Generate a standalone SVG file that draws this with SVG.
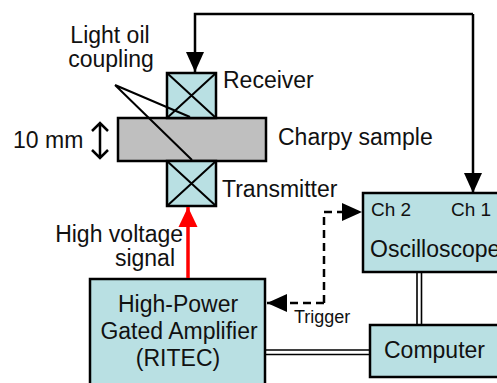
<svg xmlns="http://www.w3.org/2000/svg" width="497" height="383" viewBox="0 0 497 383">
<style>
text{font-family:"Liberation Sans",Arial,sans-serif;font-size:23px;fill:#111}
.box{fill:#b9e0e3;stroke:#000;stroke-width:2.5}
.x{stroke:#000;stroke-width:2;fill:none}
.ln{stroke:#000;stroke-width:2.5;fill:none}
.thin{stroke:#000;stroke-width:1.6;fill:none}
.small{font-size:18px}
.ch{font-size:19px}
</style>
<defs>
<marker id="ah" markerWidth="20" markerHeight="20" viewBox="0 0 20 20" refX="20" refY="10" orient="auto" markerUnits="userSpaceOnUse">
<path d="M0,1 L20,10 L0,19 Z" fill="#000"/>
</marker>
<marker id="ahr" markerWidth="20" markerHeight="20" viewBox="0 0 20 20" refX="20" refY="10" orient="auto" markerUnits="userSpaceOnUse">
<path d="M0,0.5 L20,10 L0,19.5 Z" fill="#f00"/>
</marker>
</defs>
<g id="sample">
<rect x="118" y="118" width="148" height="43" fill="#bfbfbf" stroke="#000" stroke-width="2.5"/>
</g>
<g id="receiver">
<rect class="box" x="167" y="73" width="49" height="45"/>
<path class="x" d="M167,73 L216,118 M216,73 L167,118"/>
</g>
<g id="transmitter">
<rect class="box" x="167" y="161" width="49" height="45"/>
<path class="x" d="M167,161 L216,206 M216,161 L167,206"/>
</g>
<g id="oscilloscope">
<rect class="box" x="363" y="193" width="140" height="79"/>
<text class="ch" x="371" y="216">Ch 2</text>
<text class="ch" x="451" y="216">Ch 1</text>
<text x="370" y="257">Oscilloscope</text>
</g>
<g id="computer">
<rect class="box" x="370" y="325" width="133" height="52"/>
<text x="384" y="358">Computer</text>
</g>
<g id="amplifier">
<rect class="box" x="90" y="279" width="175" height="110"/>
<text x="178" y="312" text-anchor="middle">High-Power</text>
<text x="179" y="339" text-anchor="middle">Gated Amplifier</text>
<text x="178" y="366" text-anchor="middle">(RITEC)</text>
</g>
<g id="labels">
<text x="110" y="43" text-anchor="middle">Light oil</text>
<text x="111" y="67" text-anchor="middle">coupling</text>
<text x="13" y="148">10 mm</text>
<text x="223" y="88">Receiver</text>
<text x="278" y="145">Charpy sample</text>
<text x="222" y="197">Transmitter</text>
<text x="183" y="242" text-anchor="end">High voltage</text>
<text x="175" y="266" text-anchor="end">signal</text>
<text class="small" x="294" y="323">Trigger</text>
</g>
<g id="connectors">
<path class="x" d="M115,85 L190,117 M115,85 L192,160"/>
<path class="ln" d="M100,124 L100,157 M92,131 L100,123 L108,131 M92,150 L100,158 L108,150"/>
<path class="ln" d="M473,14 L195,14 L195,72" marker-end="url(#ah)"/>
<path class="ln" d="M473,14 L473,193" marker-end="url(#ah)"/>
<path d="M188,278 L188,207" stroke="#f00" stroke-width="3.5" fill="none" marker-end="url(#ahr)"/>
<path class="ln" d="M324,303 L324,212 L362,212" stroke-dasharray="8,5" marker-end="url(#ah)"/>
<path class="ln" d="M324,303 L267,303" stroke-dasharray="8,5" marker-end="url(#ah)"/>
<path class="thin" d="M265,350 L370,350 M265,354.5 L370,354.5"/>
<path class="thin" d="M417,272 L417,325 M421.5,272 L421.5,325"/>
</g>
</svg>
